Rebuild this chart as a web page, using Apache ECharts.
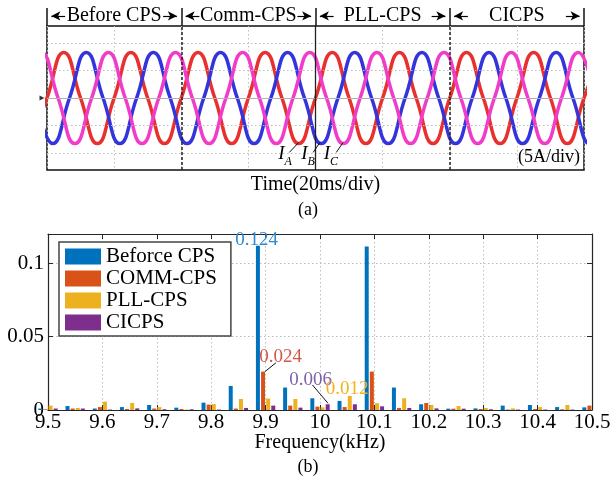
<!DOCTYPE html>
<html><head><meta charset="utf-8">
<script src="https://cdn.jsdelivr.net/npm/echarts@6/dist/echarts.min.js"></script>
<style>html,body{margin:0;padding:0;background:#fff}#c{width:616px;height:485px}</style>
</head><body><div id="c"></div>
<script>
const SERIF = "'Liberation Serif','Times New Roman',serif";

// ---------- (a) three-phase currents (time in ms, current in A; 5 A/div) ----------
const sections = ['Before CPS', 'Comm-CPS', 'PLL-CPS', 'CICPS'];
const sectionBounds = [0, 40, 80, 120, 160];
// peaks / zero crossings
const iA = [[-5,-8.3],[0,0],[5,8.3],[10,0],[15,-8.3],[20,0],[25,8.3],[30,0],[35,-8.3],[40,0],[45,8.3],[50,0],[55,-8.3],[60,0],[65,8.3],[70,0],[75,-8.3],[80,0],[85,8.3],[90,0],[95,-8.3],[100,0],[105,8.3],[110,0],[115,-8.3],[120,0],[125,8.3],[130,0],[135,-8.3],[140,0],[145,8.3],[150,0],[155,-8.3],[160,0],[165,8.3]];
const iB = [[-3.3,0],[1.7,-8.3],[6.7,0],[11.7,8.3],[16.7,0],[21.7,-8.3],[26.7,0],[31.7,8.3],[36.7,0],[41.7,-8.3],[46.7,0],[51.7,8.3],[56.7,0],[61.7,-8.3],[66.7,0],[71.7,8.3],[76.7,0],[81.7,-8.3],[86.7,0],[91.7,8.3],[96.7,0],[101.7,-8.3],[106.7,0],[111.7,8.3],[116.7,0],[121.7,-8.3],[126.7,0],[131.7,8.3],[136.7,0],[141.7,-8.3],[146.7,0],[151.7,8.3],[156.7,0],[161.7,-8.3],[166.7,0]];
const iC = [[-6.7,0],[-1.7,8.3],[3.3,0],[8.3,-8.3],[13.3,0],[18.3,8.3],[23.3,0],[28.3,-8.3],[33.3,0],[38.3,8.3],[43.3,0],[48.3,-8.3],[53.3,0],[58.3,8.3],[63.3,0],[68.3,-8.3],[73.3,0],[78.3,8.3],[83.3,0],[88.3,-8.3],[93.3,0],[98.3,8.3],[103.3,0],[108.3,-8.3],[113.3,0],[118.3,8.3],[123.3,0],[128.3,-8.3],[133.3,0],[138.3,8.3],[143.3,0],[148.3,-8.3],[153.3,0],[158.3,8.3],[163.3,0]];
const phaseSubs = ['A', 'B', 'C'];
const phaseColors = ['#e8302e', '#3434dc', '#f03cc8'];

// ---------- (b) spectrum ----------
const freqs = [9.5,9.55,9.6,9.65,9.7,9.75,9.8,9.85,9.9,9.95,10,10.05,10.1,10.15,10.2,10.25,10.3,10.35,10.4,10.45,10.5];
const beforeCPS = [0.001,0.0027,0.001,0.002,0.0034,0.0016,0.005,0.0164,0.112,0.0153,0.008,0.0062,0.1115,0.0153,0.0039,0.0009,0.0011,0.003,0.0034,0.002,0.0018];
const commCPS   = [0.0005,0.001,0.002,0.0007,0.001,0.0007,0.0037,0.001,0.0262,0.003,0.0023,0.002,0.0262,0.0014,0.0048,0.0009,0.0007,0.0003,0.0007,0.0005,0.003];
const pllCPS    = [0.003,0.0014,0.0057,0.0048,0.002,0.0003,0.004,0.0075,0.0078,0.0075,0.0018,0.0096,0.0046,0.008,0.0034,0.0027,0.0014,0.0011,0.002,0.0034,0];
const cicps     = [0.001,0.001,0.0003,0.0011,0.0005,0.0005,0.0003,0.0014,0.003,0.0016,0.0039,0.0039,0.0025,0.0014,0.0011,0.0009,0.0005,0.0003,0.0003,0.0003,0];
const barNames  = ['Beforce CPS', 'COMM-CPS', 'PLL-CPS', 'CICPS'];
const barColors = ['#0072BD', '#D95319', '#EDB120', '#7E2F8E'];
const barValues = [beforeCPS, commCPS, pllCPS, cicps];
const peakLabels = ['0.124', '0.024', '0.006', '0.012'];
const peakLabelColors = ['#2f8ad2', '#d4574a', '#7f62aa', '#f2b21c'];

const hY = 0.56;
const arrowLines = [];
sections.forEach((s, i) => {
  const a = sectionBounds[i], b = sectionBounds[i + 1];
  arrowLines.push([{ coord: [a + 5.4, hY] }, { coord: [a + 1.3, hY] }]);
  arrowLines.push([{ coord: [b - 5.4, hY] }, { coord: [b - 1.3, hY] }]);
});

const axisDark = '#262626';
const gridDot = { color: '#bdbdbd', type: [1.5, 2.5], width: 1 };

const chart = echarts.init(document.getElementById('c'), null, { renderer: 'canvas' });
const option = {
  animation: false,
  backgroundColor: '#fff',
  grid: [
    { left: 47, top: 8, width: 537, height: 18, show: false, outerBoundsMode: 'none' },
    { left: 47, top: 26, width: 537, height: 144, show: true, borderColor: '#111', borderWidth: 1.5, backgroundColor: 'transparent', outerBoundsMode: 'none' },
    { left: 48, top: 234, width: 544, height: 176, show: false, outerBoundsMode: 'none' }
  ],
  xAxis: [
    { gridIndex: 0, type: 'value', min: 0, max: 160, show: false },
    { gridIndex: 1, type: 'value', min: 0, max: 160, interval: 20,
      axisLine: { show: false }, axisTick: { show: false }, axisLabel: { show: false },
      splitLine: { show: true, lineStyle: gridDot },
      name: 'Time(20ms/div)', nameLocation: 'middle', nameGap: 5, nameMoveOverlap: false,
      nameTextStyle: { fontFamily: SERIF, fontSize: 20, color: '#000', verticalAlign: 'top' } },
    { gridIndex: 2, type: 'value', min: 9.5, max: 10.5, interval: 0.1, position: 'bottom',
      axisLine: { show: true, onZero: false, lineStyle: { color: axisDark, width: 1.2 } },
      axisTick: { show: true, inside: true, length: 5, lineStyle: { color: axisDark } },
      axisLabel: { fontFamily: SERIF, fontSize: 21, color: '#000', margin: 2 },
      splitLine: { show: true, lineStyle: gridDot },
      name: 'Frequency(kHz)', nameLocation: 'middle', nameGap: 23, nameMoveOverlap: false,
      nameTextStyle: { fontFamily: SERIF, fontSize: 20, color: '#000', verticalAlign: 'top' } },
    { gridIndex: 2, type: 'value', min: 9.5, max: 10.5, interval: 0.1, position: 'top',
      axisLine: { show: true, onZero: false, lineStyle: { color: axisDark, width: 1.2 } },
      axisTick: { show: true, inside: true, length: 5, lineStyle: { color: axisDark } },
      axisLabel: { show: false }, splitLine: { show: false } }
  ],
  yAxis: [
    { gridIndex: 0, type: 'value', min: 0, max: 1, show: false },
    { gridIndex: 1, type: 'value', min: -13.1, max: 13.1, show: false },
    { gridIndex: 2, type: 'value', min: 0, max: 0.12, interval: 0.05,
      axisLine: { show: true, onZero: false, lineStyle: { color: axisDark, width: 1.2 } },
      axisTick: { show: true, inside: true, length: 5, lineStyle: { color: axisDark } },
      axisLabel: { fontFamily: SERIF, fontSize: 21, color: '#000', margin: 4, showMaxLabel: false },
      splitLine: { show: true, lineStyle: gridDot } },
    { gridIndex: 2, type: 'value', min: 0, max: 0.12, interval: 0.05, position: 'right',
      axisLine: { show: true, onZero: false, lineStyle: { color: axisDark, width: 1.2 } },
      axisTick: { show: true, inside: true, length: 5, lineStyle: { color: axisDark } },
      axisLabel: { show: false }, splitLine: { show: false } }
  ],
  legend: {
    data: barNames, orient: 'vertical', left: 59, top: 242,
    itemWidth: 36, itemHeight: 16, itemGap: 1, icon: 'rect',
    padding: [4, 14, 3, 6], borderColor: '#444', borderWidth: 1.5, backgroundColor: '#fff',
    selectedMode: false,
    textStyle: { fontFamily: SERIF, fontSize: 21, color: '#000' }
  },
  graphic: [
    { type: 'text', x: 308, y: 210, style: { text: '(a)', fontFamily: SERIF, fontSize: 18, fill: '#000', align: 'center', verticalAlign: 'middle' } },
    { type: 'text', x: 308, y: 467, style: { text: '(b)', fontFamily: SERIF, fontSize: 18, fill: '#000', align: 'center', verticalAlign: 'middle' } }
  ],
  series: [
    // header frame lines
    { type: 'line', xAxisIndex: 0, yAxisIndex: 0, data: [], silent: true,
      markLine: { silent: true, symbol: 'none', animation: false, label: { show: false },
        lineStyle: { color: '#111', width: 1.5, type: 'solid' },
        data: sectionBounds.map(x => ({ xAxis: x })) } },
    // header arrows + texts
    { type: 'line', xAxisIndex: 0, yAxisIndex: 0, data: [], silent: true,
      markLine: { silent: true, symbol: ['none', 'arrow'], symbolSize: [7, 9], animation: false,
        label: { show: false }, lineStyle: { color: '#000', width: 1.2, type: 'solid' },
        data: arrowLines },
      markPoint: { silent: true, symbol: 'circle', symbolSize: 1, itemStyle: { color: 'rgba(0,0,0,0)' },
        label: { show: true, position: 'inside', formatter: '{b}', fontFamily: SERIF, fontSize: 20, color: '#000' },
        data: sections.map((s, i) => ({ name: s, coord: [(sectionBounds[i] + sectionBounds[i + 1]) / 2, hY] })) } },
    // scope grid lines
    { type: 'line', xAxisIndex: 1, yAxisIndex: 1, data: [], silent: true, z: 1,
      markLine: { silent: true, symbol: 'none', animation: false, label: { show: false },
        data: [
          { yAxis: -10, lineStyle: gridDot }, { yAxis: -5, lineStyle: gridDot },
          { yAxis: 5, lineStyle: gridDot }, { yAxis: 10, lineStyle: gridDot },
          { yAxis: 0, lineStyle: { color: '#b0b0b0', type: 'solid', width: 1 } }
        ] } },
    ...[iA, iB, iC].map((d, k) => ({
      type: 'line', name: 'I' + phaseSubs[k], xAxisIndex: 1, yAxisIndex: 1, data: d,
      smooth: true, showSymbol: false, silent: true, z: 2,
      lineStyle: { color: phaseColors[k], width: 3.5 }
    })),
    { type: 'line', xAxisIndex: 1, yAxisIndex: 1, data: [], silent: true, z: 5,
      markLine: { silent: true, symbol: 'none', animation: false, label: { show: false },
        data: [
          { xAxis: 40, lineStyle: { color: '#222', type: [3, 2], width: 1.5 } },
          { xAxis: 80, lineStyle: { color: '#222', type: 'solid', width: 1.3 } },
          { xAxis: 120, lineStyle: { color: '#222', type: [3, 2], width: 1.5 } },
          [{ coord: [72.2, -9.9] }, { coord: [75.0, -8.1] }],
          [{ coord: [79.3, -9.9] }, { coord: [81.3, -8.1] }],
          [{ coord: [86.2, -9.9] }, { coord: [88.2, -8.1] }]
        ].map(d => Array.isArray(d) ? d.map(p => Object.assign({ lineStyle: { color: '#111', width: 1, type: 'solid' } }, p)) : d) },
      markPoint: { silent: true, symbol: 'circle', symbolSize: 1, itemStyle: { color: 'rgba(0,0,0,0)' },
        label: { show: true, position: 'inside', color: '#000' },
        data: [
          ...phaseSubs.map((s, k) => ({ name: s, coord: [[70.9, 77.8, 84.6][k], -10.9],
            label: { formatter: '{i|I}{s|' + s + '}',
              rich: { i: { fontFamily: SERIF, fontStyle: 'italic', fontSize: 19, lineHeight: 19, padding: [0, 0, 4, 0], verticalAlign: 'bottom', color: '#000' },
                      s: { fontFamily: SERIF, fontStyle: 'italic', fontSize: 12, lineHeight: 12, padding: [11, 0, 0, 0], verticalAlign: 'bottom', color: '#000' } } } })),
          { name: '(5A/div)', coord: [149.6, -10.7], label: { formatter: '{b}', fontFamily: SERIF, fontSize: 18, color: '#000' } },
          { name: 'gnd', coord: [0, 0], symbol: 'triangle', symbolSize: [5, 5], symbolRotate: -90, symbolOffset: [-5, 0],
            itemStyle: { color: '#333' }, label: { show: false } }
        ] } },
    // spectrum bars
    ...barValues.map((vals, k) => ({
      type: 'bar', name: barNames[k], xAxisIndex: 2, yAxisIndex: 2,
      data: freqs.map((f, i) => [f, vals[i]]),
      barWidth: 4, barGap: '28%', clip: true, silent: true, z: 3,
      itemStyle: { color: barColors[k] }
    })),
    // spectrum annotations
    { type: 'line', xAxisIndex: 2, yAxisIndex: 2, data: [], silent: true, z: 6,
      markLine: { silent: true, symbol: 'none', animation: false, label: { show: false },
        lineStyle: { color: '#111', width: 1, type: 'solid' },
        data: [
          [{ coord: [9.899, 0.0262] }, { coord: [9.919, 0.0322] }],
          [{ coord: [9.986, 0.0171] }, { coord: [10.0147, 0.0046] }]
        ] },
      markPoint: { silent: true, symbol: 'circle', symbolSize: 1, itemStyle: { color: 'rgba(0,0,0,0)' },
        label: { show: true, position: 'inside', formatter: '{b}', fontFamily: SERIF, fontSize: 19 },
        data: [
          { name: peakLabels[0], coord: [9.8836, 0.1158], label: { color: peakLabelColors[0] } },
          { name: peakLabels[1], coord: [9.9277, 0.0363], label: { color: peakLabelColors[1] } },
          { name: peakLabels[2], coord: [9.9829, 0.0202], label: { color: peakLabelColors[2] } },
          { name: peakLabels[3], coord: [10.050, 0.0140], label: { color: peakLabelColors[3] } }
        ] } }
  ]
};
chart.setOption(option);
</script>
</body></html>
